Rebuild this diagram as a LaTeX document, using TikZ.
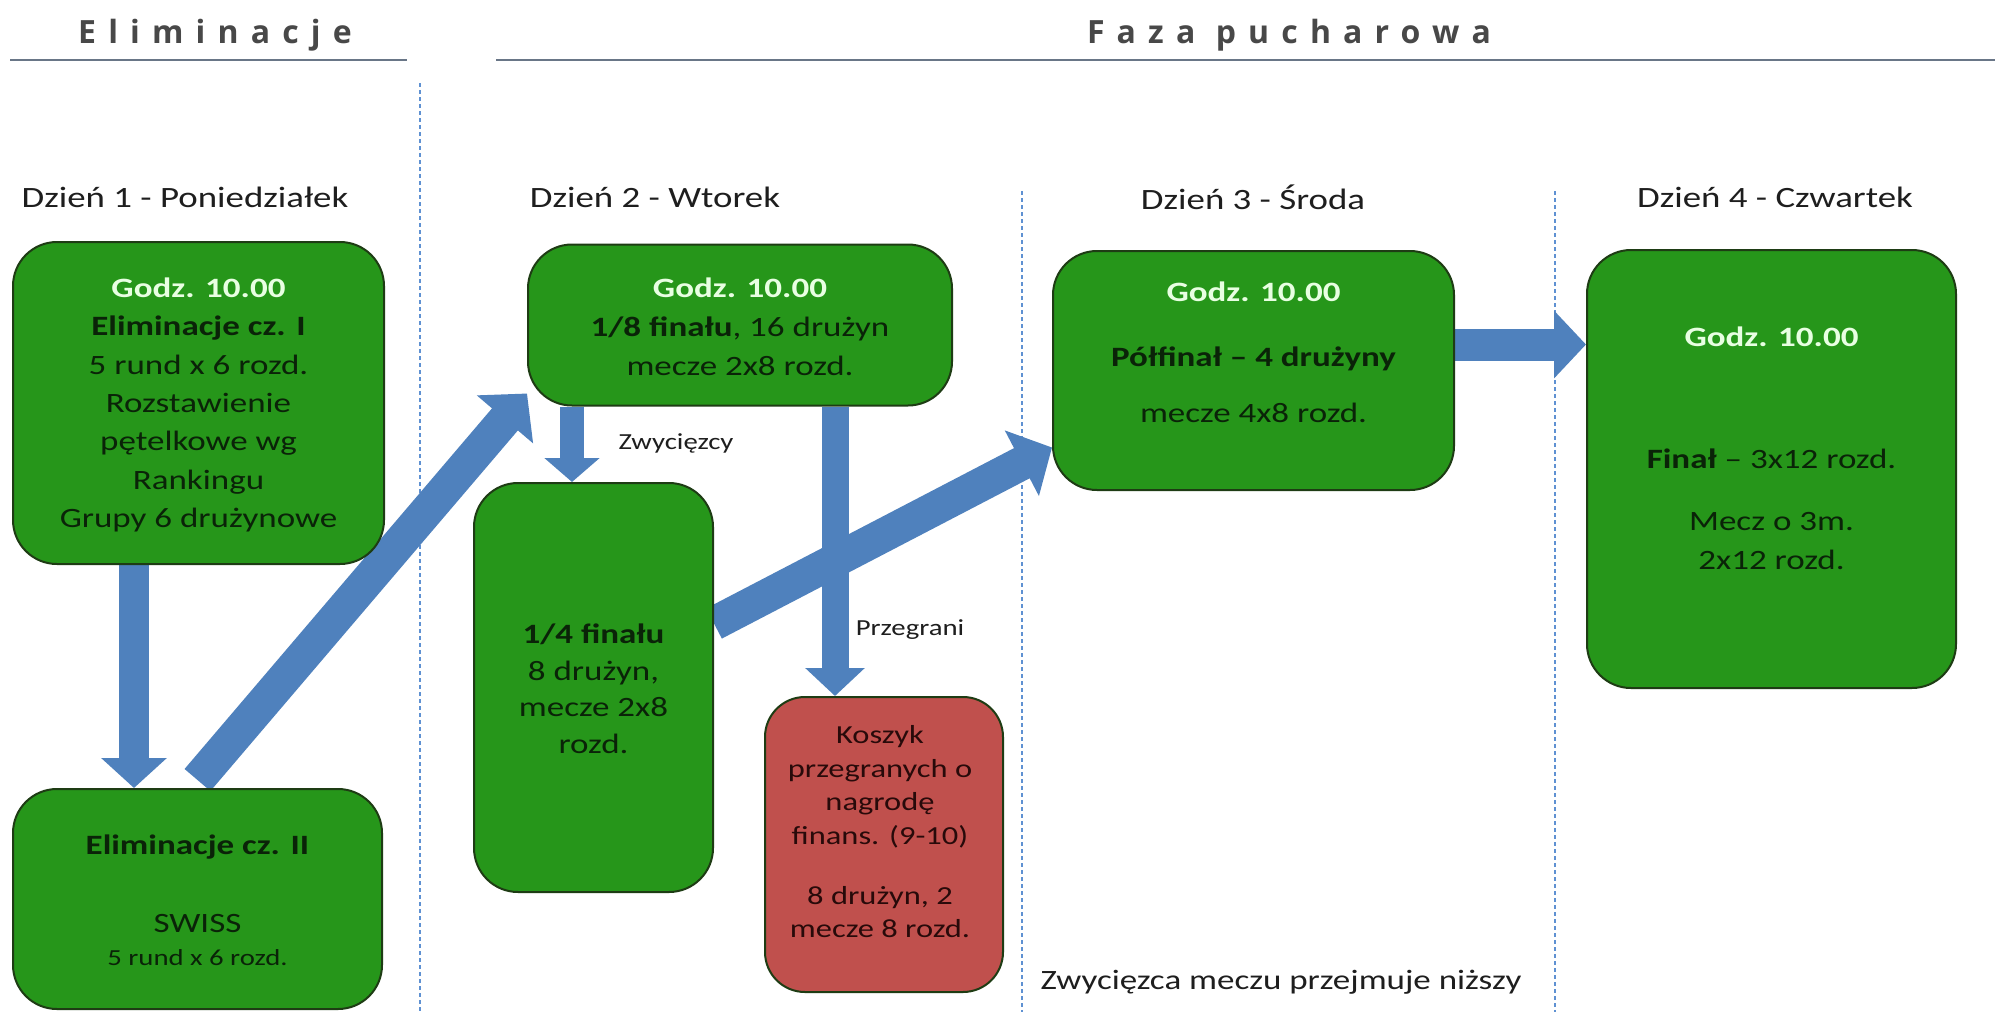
\documentclass[tikz,border=0pt]{standalone}
\usepackage{fontspec}
\setmainfont{Carlito}[FakeStretch=1.25]
\newfontfamily\hdrfont{Open Sans}[LetterSpace=38]
\usetikzlibrary{arrows.meta}
\definecolor{boxgreen}{RGB}{38,150,26}
\definecolor{boxedge}{RGB}{30,60,20}
\definecolor{txtdark}{RGB}{10,35,8}
\definecolor{godz}{RGB}{232,255,226}
\definecolor{boxred}{RGB}{192,80,77}
\definecolor{redtxt}{RGB}{40,10,10}
\definecolor{arrowblue}{RGB}{79,129,189}
\definecolor{sepblue}{RGB}{95,145,210}
\definecolor{hdrgray}{RGB}{72,72,72}
\definecolor{rulegray}{RGB}{105,118,135}
\definecolor{lbl}{RGB}{30,30,30}
\pgfdeclarelayer{back}
\pgfdeclarelayer{bg}
\pgfsetlayers{back,bg,main}
\tikzset{
  box/.style={draw=boxedge, line width=2pt, fill=boxgreen, rounded corners=44pt, inner sep=0pt},
  redbox/.style={box, fill=boxred, draw=boxedge, rounded corners=40pt},
  txt/.style={font=\fontsize{28}{38.3}\selectfont, text=txtdark, align=center, inner sep=0pt},
  oneline/.style={font=\fontsize{28}{34}\selectfont, text=txtdark, inner sep=0pt, text height=19pt, text depth=6pt},
  redtext/.style={font=\fontsize{26}{33.5}\selectfont, text=redtxt, align=center, inner sep=0pt},
  lab/.style={font=\fontsize{23}{28}\selectfont, text=lbl, inner sep=0pt},
  day/.style={font=\fontsize{29.5}{34}\selectfont, text=lbl, inner sep=0pt},
  hdr/.style={font=\hdrfont\bfseries\fontsize{32}{38}\selectfont, text=hdrgray, inner sep=0pt, anchor=base},
  bigarrow/.style={draw=arrowblue, line width=30pt, -{Triangle[width=64pt, length=30pt]}},
  diagarrow/.style={draw=arrowblue, line width=34pt, -{Triangle[width=72pt, length=34pt]}},
  sep/.style={draw=sepblue, line width=1.5pt, dash pattern=on 4pt off 3pt},
  rule/.style={draw=rulegray, line width=2.5pt}
}
\newcommand{\godz}{{\bfseries\color{godz}Godz. 10.00}}
\begin{document}
\begin{tikzpicture}[x=1pt, y=-1pt]
\useasboundingbox (0,0) rectangle (1995,1012);
\begin{pgfonlayer}{back}
  \fill[white] (0,0) rectangle (1995,1012);
  \draw[sep] (420,83) -- (420,1012);
  \draw[sep] (1022,191) -- (1022,1012);
  \draw[sep] (1555,191) -- (1555,1012);
  \draw[rule] (10,60) -- (407,60);
  \draw[rule] (496,60) -- (1995,60);
\end{pgfonlayer}

% headers
\node[hdr] (h1) at (215,43) {Eliminacje};
\node[hdr] (h2) at (1289,43) {Faza pucharowa};

% day labels
\node[day] (d1) at (185,197) {Dzień 1 - Poniedziałek};
\node[day] (d2) at (655,197) {Dzień 2 - Wtorek};
\node[day] (d3) at (1253,197) {Dzień 3 - Środa};
\node[day] (d4) at (1775,197) {Dzień 4 - Czwartek};

% boxes
\node[box, minimum width=371pt, minimum height=322pt] (b1) at (198.5,403) {};
\node[box, minimum width=369pt, minimum height=220pt] (b2) at (197.5,899) {};
\node[box, minimum width=424pt, minimum height=161pt] (b3) at (740,325) {};
\node[box, minimum width=239pt, minimum height=409pt] (b4) at (593.5,687.5) {};
\node[redbox, minimum width=238pt, minimum height=295pt] (r) at (884,844.5) {};
\node[box, minimum width=401pt, minimum height=239pt] (b6) at (1253.5,370.5) {};
\node[box, minimum width=369pt, minimum height=438pt] (b7) at (1771.5,469) {};

% box texts
\node[txt] (t1) at (198.5,405) {\godz\\\textbf{Eliminacje cz. I}\\5 rund x 6 rozd.\\Rozstawienie\\pętelkowe wg\\Rankingu\\Grupy 6 drużynowe};

\node[oneline] (t2a) at (197.5,848) {\textbf{Eliminacje cz. II}};
\node[oneline] (t2b) at (197.5,926) {SWISS};
\node[oneline, font=\fontsize{23}{28}\selectfont, text height=16pt, text depth=5pt] (t2c) at (197.5,960) {5 rund x 6 rozd.};

\node[txt, font=\fontsize{28}{39}\selectfont] (t3) at (740,327) {\godz\\\textbf{1/8 finału}, 16 drużyn\\mecze 2x8 rozd.};

\node[txt, font=\fontsize{28}{36.5}\selectfont] (t4) at (593.5,689) {\textbf{1/4 finału}\\8 drużyn,\\mecze 2x8\\rozd.};

\node[redtext] (r1) at (880,787) {Koszyk\\przegranych o\\nagrodę\\finans. (9-10)};
\node[redtext] (r2) at (880,912) {8 drużyn, 2\\mecze 8 rozd.};

\node[oneline] (t6a) at (1253.5,295) {\godz};
\node[oneline] (t6b) at (1253.5,360) {\textbf{Półfinał – 4 drużyny}};
\node[oneline] (t6c) at (1253.5,416) {mecze 4x8 rozd.};

\node[oneline] (t7a) at (1771.5,340) {\godz};
\node[oneline] (t7b) at (1771.5,462) {\textbf{Finał} – 3x12 rozd.};
\node[txt, font=\fontsize{28}{39}\selectfont] (t7c) at (1771.5,541) {Mecz o 3m.\\2x12 rozd.};

% labels
\node[lab] (lz) at (676,443) {Zwycięzcy};
\node[lab] (lp) at (910,630) {Przegrani};
\node[oneline, text=lbl] (lw) at (1281,983) {Zwycięzca meczu przejmuje niższy};

% arrows
\coordinate (a12s) at ([xshift=-64.5pt]b1.south);
\coordinate (a23s) at ([yshift=8pt]b2.north);
\coordinate (a23e) at ([yshift=13pt]b3.south west);
\coordinate (zws) at ([xshift=-168pt]b3.south);
\coordinate (prs) at ([xshift=95pt]b3.south);
\coordinate (a46s) at ([yshift=64pt]b4.east);
\coordinate (a46e) at ([yshift=-77pt]b6.west);
\coordinate (a67s) at ([yshift=26pt]b6.east);
\begin{pgfonlayer}{bg}
  \draw[bigarrow] (a12s) -- (a12s |- b2.north);
  \draw[diagarrow] (a23s) -- (a23e);
  \draw[bigarrow, line width=24pt, -{Triangle[width=54pt, length=24pt]}] (zws) -- (zws |- b4.north);
  \draw[bigarrow, line width=27pt, -{Triangle[width=58pt, length=28pt]}] (prs) -- (prs |- r.north);
  \draw[diagarrow] (a46s) -- (a46e);
  \draw[bigarrow, line width=32pt, -{Triangle[width=66pt, length=32pt]}] (a67s) -- (a67s -| b7.west);
\end{pgfonlayer}
\end{tikzpicture}
\end{document}
